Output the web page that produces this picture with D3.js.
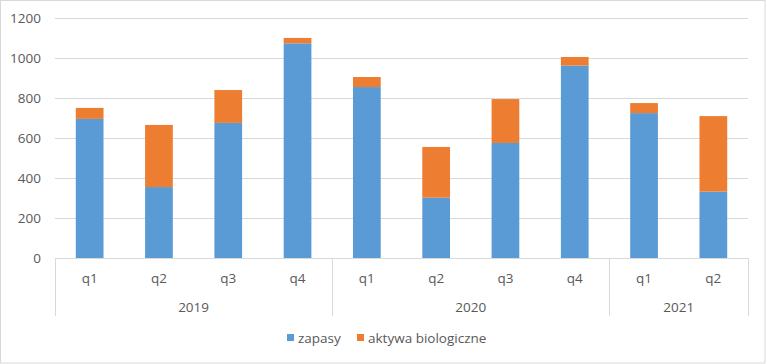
<!DOCTYPE html>
<html>
<head>
<meta charset="utf-8">
<script src="https://cdn.jsdelivr.net/npm/d3@7"></script>
<style>
  body { margin: 0; background: #fff; }
  text { font-family: "Open Sans", "Liberation Sans", sans-serif; fill: #595959; }
</style>
</head>
<body>
<script>
// data
var quarters = ["q1", "q2", "q3", "q4", "q1", "q2", "q3", "q4", "q1", "q2"];
var years = ["2019", "2019", "2019", "2019", "2020", "2020", "2020", "2020", "2021", "2021"];
var zapasy = [694, 354, 674, 1071, 853, 301, 574, 960, 723, 331];
var aktywa = [55, 310, 164, 27, 50, 253, 219, 43, 50, 377];
var yTicks = [0, 200, 400, 600, 800, 1000, 1200];
var seriesNames = ["zapasy", "aktywa biologiczne"];
var colors = ["#5b9bd5", "#ed7d31"];

var W = 767, H = 364;
var plotLeft = 55, plotRight = 748, plotTop = 17.5, plotBottom = 258;

var svg = d3.select("body").append("svg")
  .attr("width", W)
  .attr("height", H);

svg.append("rect")
  .attr("x", 0.5).attr("y", 0.5)
  .attr("width", 764.5).attr("height", 362.5)
  .style("fill", "#fff")
  .style("stroke", "#d9d9d9");

var idx = d3.range(quarters.length);
var x = d3.scaleBand().domain(idx).range([plotLeft, plotRight]).padding(0);
var y = d3.scaleLinear().domain([0, 1200]).range([plotBottom, plotTop]);

// gridlines + y labels
svg.selectAll(".grid").data(yTicks).enter().append("line")
  .attr("x1", plotLeft).attr("x2", plotRight)
  .attr("y1", function(d) { return Math.round(y(d)) + 0.5; })
  .attr("y2", function(d) { return Math.round(y(d)) + 0.5; })
  .style("stroke", "#d9d9d9")
  .style("stroke-width", 1);

svg.selectAll(".ylab").data(yTicks).enter().append("text")
  .attr("x", 41)
  .attr("y", function(d) { return y(d) + 5; })
  .attr("text-anchor", "end")
  .style("font-size", "13.5px")
  .text(function(d) { return d; });

// stacked bars
var rows = idx.map(function(i) { return { i: i, zapasy: zapasy[i], aktywa: aktywa[i] }; });
var stack = d3.stack().keys(["zapasy", "aktywa"]);
var layers = stack(rows);
var bw = x.bandwidth() * 0.4;

svg.selectAll(".layer").data(layers).enter().append("g")
  .style("fill", function(d, k) { return colors[k]; })
  .selectAll("rect").data(function(d) { return d; }).enter().append("rect")
  .attr("x", function(d) { return x(d.data.i) + (x.bandwidth() - bw) / 2; })
  .attr("width", bw)
  .attr("y", function(d) { return y(d[1]); })
  .attr("height", function(d) { return y(d[0]) - y(d[1]); });

// axis line
svg.append("line")
  .attr("x1", plotLeft).attr("x2", plotRight)
  .attr("y1", plotBottom + 0.5).attr("y2", plotBottom + 0.5)
  .style("stroke", "#d9d9d9");

// quarter labels
svg.selectAll(".qlab").data(idx).enter().append("text")
  .attr("x", function(i) { return x(i) + x.bandwidth() / 2; })
  .attr("y", 283)
  .attr("text-anchor", "middle")
  .style("font-size", "13.5px")
  .text(function(i) { return quarters[i]; });

// year groups
var yearList = Array.from(new Set(years));
var groups = yearList.map(function(yr) {
  var ii = idx.filter(function(i) { return years[i] === yr; });
  return { year: yr, x0: x(ii[0]), x1: x(ii[ii.length - 1]) + x.bandwidth() };
});

var seps = [plotLeft].concat(groups.map(function(g) { return g.x1; }));
svg.selectAll(".sep").data(seps).enter().append("line")
  .attr("x1", function(d) { return Math.round(d) + 0.5; })
  .attr("x2", function(d) { return Math.round(d) + 0.5; })
  .attr("y1", plotBottom).attr("y2", 316)
  .style("stroke", "#d9d9d9");

svg.selectAll(".ylab2").data(groups).enter().append("text")
  .attr("x", function(g) { return (g.x0 + g.x1) / 2; })
  .attr("y", 311.5)
  .attr("text-anchor", "middle")
  .style("font-size", "13.5px")
  .text(function(g) { return g.year; });

// legend
var legX = [287, 357];
var leg = svg.selectAll(".leg").data(seriesNames).enter().append("g")
  .attr("transform", function(d, k) { return "translate(" + legX[k] + ",334)"; });
leg.append("rect")
  .attr("width", 7).attr("height", 7)
  .style("fill", function(d, k) { return colors[k]; });
leg.append("text")
  .attr("x", 11).attr("y", 8.5)
  .style("font-size", "13.5px")
  .text(function(d) { return d; });
</script>
</body>
</html>
